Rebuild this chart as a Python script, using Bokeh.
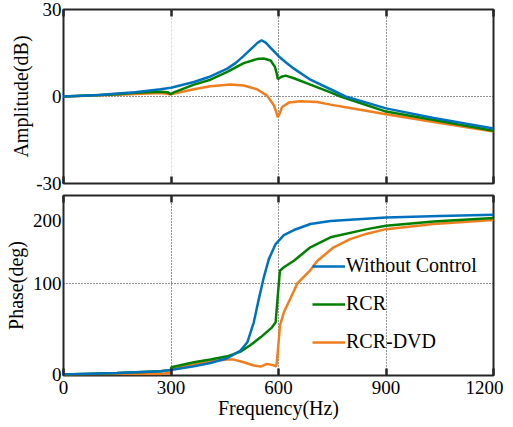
from bokeh.plotting import figure
from bokeh.layouts import column
from bokeh.models import Range1d, FixedTicker, LinearAxis, Grid, Legend, LegendItem
from bokeh.embed import file_html
from bokeh.resources import INLINE

FONT = "Liberation Serif"
FONT_T = "Times New Roman"
DARK = "#262626"
BLUE = "#0072BD"
GREEN = "#008000"
ORANGE = "#F07D1E"
TICK_SIZE = "19px"
LABEL_SIZE = "20px"

# ---------------- data ----------------
x_ticks = [0, 300, 600, 900, 1200]
amp_ticks = [-30, 0, 30]
phase_tick_pos = [0, 100, 170]
phase_tick_labels = ["0", "100", "200"]
series_names = ["Without Control", "RCR", "RCR-DVD"]

# Amplitude (dB)
amp_blue_f = [0, 100, 150, 200, 271, 300, 364, 410, 457, 480, 503, 531, 542, 553, 565, 578, 601, 620, 643, 689, 745, 787, 900, 1033, 1200]
amp_blue_v = [0, 0.5, 1.0, 1.5, 2.5, 3.0, 5.0, 6.9, 9.6, 11.5, 14.0, 17.3, 18.6, 19.4, 18.5, 16.8, 13.8, 11.8, 9.6, 5.8, 2.5, 0.0, -4.1, -7.4, -11.0]

amp_green_f = [0, 150, 200, 271, 290, 299, 308, 364, 410, 457, 503, 540, 559, 578, 590, 595, 598, 608, 620, 643, 689, 745, 773, 900, 1033, 1200]
amp_green_v = [0, 0.8, 1.3, 1.6, 1.5, 0.8, 1.4, 4.1, 5.8, 8.5, 11.5, 12.9, 13.1, 12.4, 10.2, 8.0, 6.0, 6.8, 7.2, 6.3, 4.1, 1.4, 0.0, -5.2, -8.1, -11.8]

amp_orange_f = [0, 150, 271, 299, 364, 410, 466, 503, 540, 568, 587, 594, 598, 603, 610, 629, 661, 708, 745, 800, 900, 1033, 1200]
amp_orange_v = [0, 0.6, 1.2, 0.8, 2.5, 3.5, 4.1, 3.8, 2.5, 0.3, -3.0, -5.5, -7.1, -6.0, -3.6, -2.1, -1.6, -1.9, -2.8, -4.0, -6.1, -8.8, -12.1]

# Phase (deg)
ph_blue_f = [0, 150, 271, 299, 364, 410, 457, 494, 513, 531, 545, 559, 573, 592, 615, 643, 689, 745, 900, 1050, 1200]
ph_blue_v = [0, 1.8, 3.7, 5.0, 9.2, 12.8, 18.0, 26.4, 35.5, 57.5, 83.0, 107.0, 127.0, 143.6, 153.5, 159.0, 165.6, 169.0, 172.9, 174.5, 175.8]

ph_green_f = [0, 150, 271, 299, 301, 364, 410, 457, 494, 522, 550, 582, 592, 598, 604, 615, 643, 689, 745, 847, 900, 1033, 1200]
ph_green_v = [0, 1.8, 3.7, 5.0, 8.0, 13.6, 16.5, 20.1, 25.3, 32.6, 41.0, 52.0, 57.5, 86.8, 114.3, 118.0, 125.3, 140.0, 151.0, 160.0, 163.7, 168.5, 172.2]

ph_orange_f = [0, 150, 271, 299, 301, 364, 410, 457, 475, 503, 531, 550, 568, 582, 594, 598, 604, 615, 643, 652, 689, 708, 754, 800, 847, 900, 1033, 1200]
ph_orange_v = [0, 0.7, 0.7, 2.0, 6.2, 11.0, 14.6, 16.5, 16.5, 13.6, 10.0, 8.8, 11.7, 10.7, 9.2, 24.5, 53.8, 68.5, 92.0, 100.0, 115.0, 125.0, 140.0, 149.0, 155.0, 160.0, 165.6, 170.0]


def style_common(p):
    p.outline_line_color = DARK
    p.outline_line_width = 2
    p.background_fill_color = "white"
    p.border_fill_color = "white"
    p.grid.visible = False


def make_xaxis(p, show_labels, place):
    ax = LinearAxis(ticker=FixedTicker(ticks=x_ticks))
    ax.axis_line_color = None
    ax.major_tick_in = 7
    ax.major_tick_out = 0
    ax.major_tick_line_color = DARK
    ax.major_tick_line_width = 2.5
    ax.minor_tick_line_color = None
    ax.major_label_text_font = FONT_T
    ax.axis_label_text_font = FONT
    ax.axis_label_text_font_style = "normal"
    if show_labels:
        ax.major_label_text_font_size = TICK_SIZE
        ax.major_label_text_color = "black"
        ax.major_label_standoff = 5
        ax.axis_label = "Frequency(Hz)"
        ax.axis_label_text_font_size = LABEL_SIZE
        ax.axis_label_text_color = "black"
        ax.axis_label_standoff = 0
    else:
        ax.major_label_overrides = {t: "" for t in x_ticks}
        ax.major_label_text_font_size = "1px"
        ax.major_label_standoff = 0
    p.add_layout(ax, place)
    return ax


def make_yaxis(p, ticks, overrides, label, standoff):
    ax = LinearAxis(ticker=FixedTicker(ticks=ticks))
    ax.major_label_overrides = overrides
    ax.axis_line_color = None
    ax.major_tick_in = 0
    ax.major_tick_out = 0
    ax.minor_tick_line_color = None
    ax.major_label_text_font = FONT_T
    ax.major_label_text_font_size = TICK_SIZE
    ax.major_label_text_color = "black"
    ax.major_label_standoff = 2
    ax.axis_label = label
    ax.axis_label_text_font = FONT
    ax.axis_label_text_font_size = LABEL_SIZE
    ax.axis_label_text_font_style = "normal"
    ax.axis_label_text_color = "black"
    ax.axis_label_standoff = standoff
    p.add_layout(ax, "left")
    return ax


def add_grid(p, dim, ticks, color=DARK, dash="1 2"):
    g = Grid(dimension=dim, ticker=FixedTicker(ticks=ticks))
    g.grid_line_color = color
    g.grid_line_dash = dash
    g.grid_line_width = 1
    p.add_layout(g)


inner_x = [t for t in x_ticks if x_ticks[0] < t < x_ticks[-1]]

# ---------------- top panel ----------------
p1 = figure(frame_width=430, frame_height=174, x_range=Range1d(0, 1200), y_range=Range1d(-30, 30),
            output_backend="svg", toolbar_location=None, x_axis_location=None, y_axis_location=None,
            min_border_left=63, min_border_right=10, min_border_top=9, min_border_bottom=11)
style_common(p1)
make_yaxis(p1, amp_ticks, {t: str(t) for t in amp_ticks}, "Amplitude(dB)", 1)
make_xaxis(p1, False, "below")
make_xaxis(p1, False, "above")
add_grid(p1, 0, inner_x[:1], color="#d4d4d4", dash="2 2")
add_grid(p1, 0, inner_x[1:])
add_grid(p1, 1, [t for t in amp_ticks if amp_ticks[0] < t < amp_ticks[-1]])

p1.line(amp_orange_f, amp_orange_v, line_color=ORANGE, line_width=2.5)
p1.line(amp_green_f, amp_green_v, line_color=GREEN, line_width=2.5)
p1.line(amp_blue_f, amp_blue_v, line_color=BLUE, line_width=2.5)

# ---------------- bottom panel ----------------
p2 = figure(frame_width=430, frame_height=180, x_range=Range1d(0, 1200), y_range=Range1d(-1, 197),
            output_backend="svg", toolbar_location=None, x_axis_location=None, y_axis_location=None,
            min_border_left=63, min_border_right=10, min_border_top=1, min_border_bottom=45)
style_common(p2)
make_yaxis(p2, phase_tick_pos, dict(zip(phase_tick_pos, phase_tick_labels)), "Phase(deg)", 3)
make_xaxis(p2, True, "below")
make_xaxis(p2, False, "above")
add_grid(p2, 0, inner_x)
add_grid(p2, 1, [100])

r_o = p2.line(ph_orange_f, ph_orange_v, line_color=ORANGE, line_width=2.5)
r_g = p2.line(ph_green_f, ph_green_v, line_color=GREEN, line_width=2.5)
r_b = p2.line(ph_blue_f, ph_blue_v, line_color=BLUE, line_width=2.5)

legend = Legend(items=[LegendItem(label=series_names[0], renderers=[r_b]),
                       LegendItem(label=series_names[1], renderers=[r_g]),
                       LegendItem(label=series_names[2], renderers=[r_o])],
                location=(249, 22))
legend.background_fill_alpha = 0
legend.border_line_color = None
legend.label_text_font = FONT_T
legend.label_text_font_size = LABEL_SIZE
legend.label_text_color = "black"
legend.glyph_width = 33
legend.glyph_height = 20
legend.label_height = 20
legend.label_standoff = 1
legend.spacing = 15
legend.padding = 0
legend.margin = 0
p2.add_layout(legend)

layout = column(p1, p2, spacing=0)
open("out.html", "w").write(file_html(layout, INLINE))
